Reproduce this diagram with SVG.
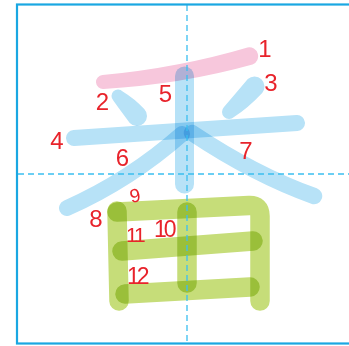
<svg xmlns="http://www.w3.org/2000/svg" width="349" height="346" viewBox="0 0 349 346">
<style>
.s{mix-blend-mode:multiply;fill:none;stroke-linecap:round;stroke-linejoin:round}
.b{stroke:#b7e2f7}
.bf{fill:#b7e2f7;mix-blend-mode:multiply}
.pf{fill:#f7c7dc;mix-blend-mode:multiply}
.g{stroke:#c6dd79;stroke-width:19.5}
.n{font-family:"Liberation Sans",Arial,sans-serif;font-size:24px;fill:#e8232b;text-anchor:middle}
.m{text-anchor:start}
.grid{stroke:#3bbff0;stroke-width:1.3;stroke-dasharray:6 4;fill:none}
</style>
<rect width="349" height="346" fill="#ffffff"/>
<g id="stroke1">
<path class="pf" d="M103.5,89 A7,7 0 0 1 102.5,75 Q180,67.5 247.5,47.4 A9,9 0 0 1 252.5,64.6 Q181,84.5 103.5,89 Z"/>
<text class="n" x="265" y="56.6">1</text>
</g>
<g id="stroke2">
<path class="bf" d="M122.7,91.5 Q135,99 144.25,109.1 A10,10 0 0 1 129.75,122.9 Q120,110 113.3,100.5 A6.5,6.5 0 0 1 122.7,91.5 Z"/>
<text class="n" x="102.5" y="110">2</text>
</g>
<g id="stroke3">
<path class="bf" d="M247.8,79.1 A10,10 0 0 1 262.2,92.9 Q248,108 234,116.9 A7,7 0 0 1 224,107.1 Q237,92 247.8,79.1 Z"/>
<text class="n" x="271" y="90.6">3</text>
</g>
<g id="stroke4">
<line class="s b" x1="74" y1="138" x2="297" y2="123" stroke-width="16"/>
<text class="n" x="57" y="148.6">4</text>
</g>
<g id="stroke5">
<line class="s b" x1="184.5" y1="76" x2="184.5" y2="184" stroke-width="19"/>
<text class="n" x="165.5" y="102">5</text>
</g>
<g id="stroke6">
<path class="s b" d="M182,134 Q130,180 67,208" stroke-width="16"/>
<text class="n" x="122.5" y="165.6">6</text>
</g>
<g id="stroke7">
<path class="s b" d="M192,133 Q255,175 314,196" stroke-width="16.5"/>
<text class="n" x="246" y="159">7</text>
</g>
<g id="stroke8">
<line class="s g" x1="117" y1="211" x2="119" y2="301"/>
<text class="n" x="96" y="227">8</text>
</g>
<g id="stroke9">
<path class="s g" d="M117,212 L249,205.5 Q260,205 260,216 L260,301"/>
<text class="n" x="135" y="202" transform="rotate(-12 135 195)" style="font-size:19px">9</text>
</g>
<g id="stroke10">
<line class="s g" x1="187" y1="212" x2="187" y2="283"/>
<text class="n m" x="154" y="237" style="font-size:23px;letter-spacing:-3px">10</text>
</g>
<g id="stroke11">
<line class="s g" x1="122" y1="251" x2="253" y2="241"/>
<text class="n m" x="126" y="242" style="font-size:21px;letter-spacing:-2px">11</text>
</g>
<g id="stroke12">
<line class="s g" x1="125" y1="294" x2="250" y2="287"/>
<text class="n m" x="127" y="283.6" style="font-size:23px;letter-spacing:-3px">12</text>
</g>
<g id="connectors"></g>
<g id="grid">
<line class="grid" x1="187" y1="5" x2="187" y2="343"/>
<line class="grid" x1="18" y1="174" x2="349" y2="174"/>
<rect x="17" y="4.5" width="340" height="339" fill="none" stroke="#1aa7e2" stroke-width="2.2"/>
</g>
</svg>
